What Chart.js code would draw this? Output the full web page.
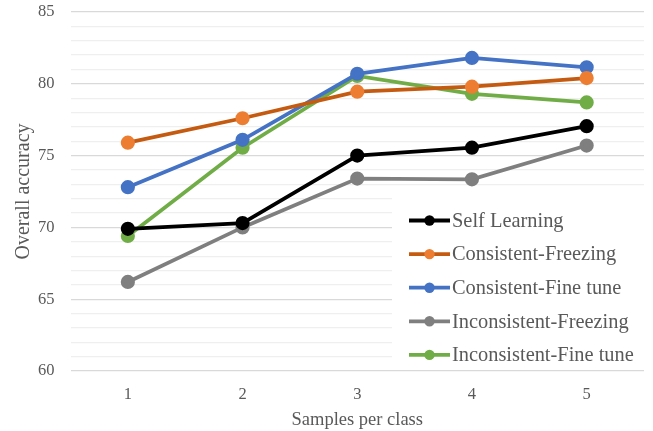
<!DOCTYPE html>
<html>
<head>
<meta charset="utf-8">
<script src="https://cdn.jsdelivr.net/npm/chart.js@4.4.1/dist/chart.umd.min.js"></script>
<style>
  html, body { margin: 0; padding: 0; background: #ffffff; }
  #wrap { width: 653px; height: 431px; }
</style>
</head>
<body>
<div id="wrap"><canvas id="c" width="653" height="431"></canvas></div>
<script>
// Samples per class on the x axis
const categories = ['1', '2', '3', '4', '5'];

// Overall accuracy per method
const selfLearning          = [69.9, 70.3, 75.0, 75.55, 77.05];
const consistentFreezing    = [75.9, 77.6, 79.45, 79.8, 80.4];
const consistentFineTune    = [72.8, 76.1, 80.7, 81.8, 81.15];
const inconsistentFreezing  = [66.2, 70.0, 73.4, 73.35, 75.7];
const inconsistentFineTune  = [69.4, 75.55, 80.55, 79.3, 78.7];

const seriesNames = ['Self Learning', 'Consistent-Freezing', 'Consistent-Fine tune',
                     'Inconsistent-Freezing', 'Inconsistent-Fine tune'];

// Axis range and labelled ticks
const yMin = 60, yMax = 85, yMajorStep = 5;

const FONT = '"Liberation Serif", "Times New Roman", serif';
const TEXT = '#595959';

function series(label, data, line, marker) {
  return {
    label, data,
    borderColor: line, backgroundColor: marker,
    pointBackgroundColor: marker, pointBorderColor: marker,
    borderWidth: 3.8, pointRadius: 5.2, pointHoverRadius: 5.2,
    tension: 0, fill: false
  };
}

// Boxed legend drawn inside the plot, lower right
const insideLegend = {
  id: 'insideLegend',
  afterDraw(chart) {
    const ctx = chart.ctx;
    const box = { x: 392, y: 196, w: 254, h: 174 };
    ctx.save();
    ctx.fillStyle = '#ffffff';
    ctx.fillRect(box.x, box.y, box.w, box.h);
    ctx.font = '20.4px ' + FONT;
    ctx.textBaseline = 'middle';
    ctx.textAlign = 'left';
    chart.data.datasets.forEach((ds, i) => {
      const cy = 220.5 + i * 33.6;
      ctx.strokeStyle = ds.borderColor;
      ctx.lineWidth = 3.8;
      ctx.beginPath();
      ctx.moveTo(409, cy);
      ctx.lineTo(450, cy);
      ctx.stroke();
      ctx.fillStyle = ds.pointBackgroundColor;
      ctx.beginPath();
      ctx.arc(429.5, cy, 5.2, 0, Math.PI * 2);
      ctx.fill();
      ctx.fillStyle = TEXT;
      ctx.fillText(ds.label, 452, cy + 1);
    });
    ctx.restore();
  }
};

new Chart(document.getElementById('c'), {
  type: 'line',
  data: {
    labels: categories,
    datasets: [
      series(seriesNames[0], selfLearning, '#000000', '#000000'),
      series(seriesNames[1], consistentFreezing, '#C55A11', '#ED7D31'),
      series(seriesNames[2], consistentFineTune, '#4472C4', '#4472C4'),
      series(seriesNames[3], inconsistentFreezing, '#7F7F7F', '#7F7F7F'),
      series(seriesNames[4], inconsistentFineTune, '#70AD47', '#70AD47')
    ]
  },
  options: {
    responsive: false,
    animation: false,
    layout: { padding: { top: 12, right: 6, left: 0, bottom: 0 } },
    plugins: { legend: { display: false }, tooltip: { enabled: false } },
    scales: {
      x: {
        offset: true,
        grid: { display: false, drawTicks: false },
        border: { display: false },
        ticks: { color: TEXT, font: { family: FONT, size: 16.5 }, padding: 14 },
        title: { display: true, text: 'Samples per class', color: TEXT,
                 font: { family: FONT, size: 18.5 }, padding: { top: 2, bottom: 0 } },
        afterFit(s) { s.height = 60; s.paddingLeft = 0; s.paddingRight = 0; }
      },
      y: {
        min: yMin, max: yMax,
        grid: {
          drawTicks: false,
          color: c => (c.tick.value % yMajorStep === 0 ? '#d9d9d9' : '#efefef'),
          lineWidth: 1.2
        },
        border: { display: false },
        ticks: {
          stepSize: 1, autoSkip: false, padding: 16,
          color: TEXT, font: { family: FONT, size: 16.5 },
          callback: v => (v % yMajorStep === 0 ? String(v) : '')
        },
        title: { display: true, text: 'Overall accuracy', color: TEXT,
                 font: { family: FONT, size: 20 }, padding: { top: 12, bottom: 0 } },
        afterFit(s) { s.width = 70.5; s.paddingTop = 0; s.paddingBottom = 0; }
      }
    }
  },
  plugins: [insideLegend]
});
</script>
</body>
</html>
